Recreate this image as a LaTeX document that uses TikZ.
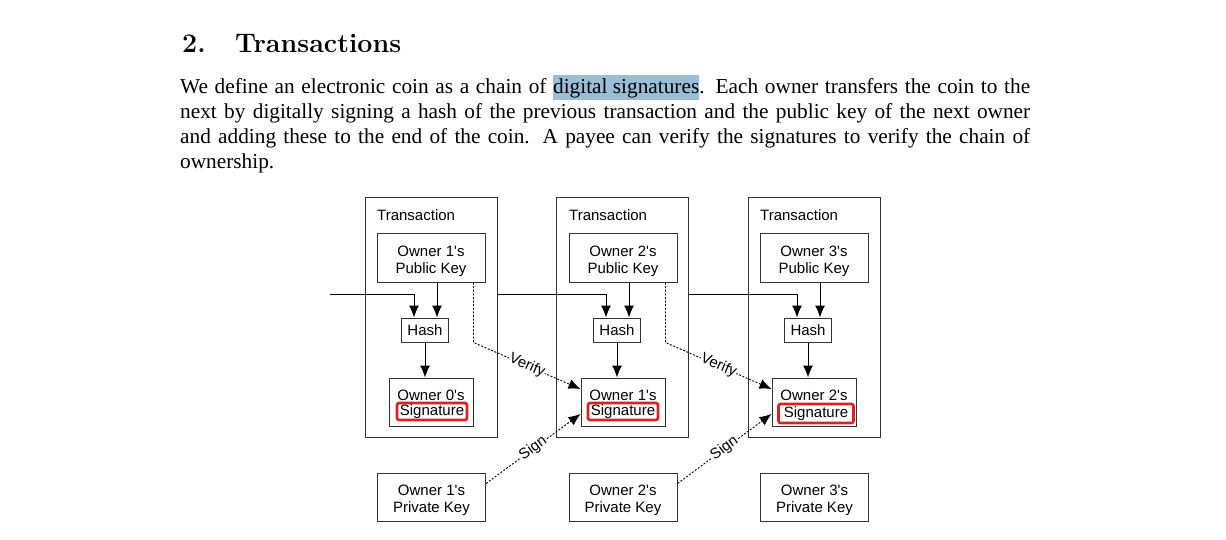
\documentclass[tikz,border=0pt]{standalone}
\usepackage{fontspec}
\newfontfamily\bodyfont{Liberation Serif}
\newfontfamily\diagfont{Liberation Sans}
\usetikzlibrary{arrows.meta}

\definecolor{hlblue}{RGB}{155,190,215}
\definecolor{sigred}{RGB}{225,30,35}
\definecolor{boxgray}{RGB}{50,50,50}

\tikzset{
  diag/.style={font=\diagfont\fontsize{15}{17}\selectfont, align=center},
  txbox/.style={draw=boxgray, line width=1pt, minimum width=132pt, minimum height=239pt, inner sep=0pt},
  keybox/.style={diag, draw=boxgray, line width=1pt, minimum width=108pt, minimum height=48pt, inner sep=0pt},
  hashbox/.style={diag, draw=boxgray, line width=1pt, minimum width=47pt, minimum height=24pt, inner sep=0pt},
  sigbox/.style={draw=boxgray, line width=1pt, minimum width=84pt, minimum height=48pt, inner sep=0pt},
  redbox/.style={diag, draw=sigred, line width=2.6pt, rounded corners=2pt, minimum width=70pt, minimum height=17pt, inner sep=0pt},
  arr/.style={line width=1pt, -{Latex[length=12pt,width=10pt]}},
  dotarr/.style={line width=0.9pt, dash pattern=on 2pt off 1.6pt, -{Latex[length=12pt,width=10pt]}},
  arrlbl/.style={diag, sloped, fill=white, inner sep=0.5pt}
}

\newcommand{\hlsig}[1]{{\setlength{\fboxsep}{0pt}\colorbox{hlblue}{\rule[-6pt]{0pt}{25pt}#1}}}
\newcommand{\keytext}[2]{\raisebox{-4pt}[\height][\depth]{\begin{tabular}{@{}c@{}}#1\\#2\end{tabular}}}

\begin{document}
\begin{tikzpicture}[x=1pt, y=-1pt]

\fill[white] (0,0) rectangle (1226,540) ;
\useasboundingbox (0,0) rectangle (1226,540) ;

% heading and text
\node[anchor=base west, inner sep=0pt] (title) at (182,53) {\fontsize{26.8}{31}\selectfont\bfseries\makebox[53pt][l]{2.}Transactions} ;
\node[anchor=base west, inner sep=0pt] (para) at (180,94) {\parbox[t]{850pt}{\bodyfont\fontsize{21.3}{24.8}\selectfont
We define an electronic coin as a chain of \hlsig{digital signatures}.  Each owner transfers the coin to the\linebreak
next by digitally signing a hash of the previous transaction and the public key of the next owner\linebreak
and adding these to the end of the coin.  A payee can verify the signatures to verify the chain of\linebreak
ownership.}} ;

% transactions
\node[txbox] (tx1) at (431,317.5) {} ;
\node[txbox] (tx2) at (622.5,317.5) {} ;
\node[txbox] (tx3) at (814,317.5) {} ;
\node[diag, anchor=base west, inner sep=0pt] (txlbl1) at (377,221) {Transaction} ;
\node[diag, anchor=base west, inner sep=0pt] (txlbl2) at (569,221) {Transaction} ;
\node[diag, anchor=base west, inner sep=0pt] (txlbl3) at (760,221) {Transaction} ;

\node[keybox] (pub1) at (431,258) {\keytext{Owner 1's}{Public Key}} ;
\node[keybox] (pub2) at (623,258) {\keytext{Owner 2's}{Public Key}} ;
\node[keybox] (pub3) at (814,258) {\keytext{Owner 3's}{Public Key}} ;

\node[hashbox] (hash1) at (425,330) {Hash} ;
\node[hashbox] (hash2) at (617,330) {Hash} ;
\node[hashbox] (hash3) at (808,330) {Hash} ;

\node[sigbox] (sig1) at (431,402) {} ;
\node[sigbox] (sig2) at (623,402) {} ;
\node[sigbox] (sig3) at (814,402) {} ;
\node[diag, anchor=base, inner sep=0pt] (own1) at (431,400) {Owner 0's} ;
\node[diag, anchor=base, inner sep=0pt] (own2) at (623,400) {Owner 1's} ;
\node[diag, anchor=base, inner sep=0pt] (own3) at (814,400) {Owner 2's} ;
\node[redbox] (red1) at (432,411.5) {Signature} ;
\node[redbox] (red2) at (623,411.5) {Signature} ;
\node[redbox, minimum width=75pt, minimum height=19pt] (red3) at (816,413.5) {Signature} ;

\node[keybox] (priv1) at (431.5,497) {\keytext{Owner 1's}{Private Key}} ;
\node[keybox] (priv2) at (623,497) {\keytext{Owner 2's}{Private Key}} ;
\node[keybox] (priv3) at (814.5,497) {\keytext{Owner 3's}{Private Key}} ;

% hash chain
\coordinate (chainin) at (330,294) ;
\draw[arr] (chainin) -| ([xshift=-11pt]hash1.north) ;
\draw[arr] (tx1.east |- chainin) -| ([xshift=-11pt]hash2.north) ;
\draw[arr] (tx2.east |- chainin) -| ([xshift=-11pt]hash3.north) ;

\draw[arr] ([xshift=6pt]pub1.south) -- ([xshift=12pt]hash1.north) ;
\draw[arr] ([xshift=6pt]pub2.south) -- ([xshift=12pt]hash2.north) ;
\draw[arr] ([xshift=6pt]pub3.south) -- ([xshift=12pt]hash3.north) ;

\draw[arr] (hash1.south) -- (hash1.south |- sig1.north) ;
\draw[arr] (hash2.south) -- (hash2.south |- sig2.north) ;
\draw[arr] (hash3.south) -- (hash3.south |- sig3.north) ;

% verify and sign
\coordinate (ver1) at ([xshift=-12pt]pub1.south east) ;
\coordinate (ver2) at ([xshift=-12pt]pub2.south east) ;
\draw[dotarr] (ver1) -- (ver1 |- hash1.south) -- node[arrlbl] {Verify} ([yshift=13pt]sig2.west) ;
\draw[dotarr] (ver2) -- (ver2 |- hash2.south) -- node[arrlbl] {Verify} ([yshift=13pt]sig3.west) ;

\draw[dotarr] ([yshift=-11pt]priv1.north east) -- node[arrlbl] {Sign} ([yshift=-12pt]sig2.west) ;
\draw[dotarr] ([yshift=-11pt]priv2.north east) -- node[arrlbl] {Sign} ([yshift=-12pt]sig3.west) ;

\end{tikzpicture}
\end{document}
